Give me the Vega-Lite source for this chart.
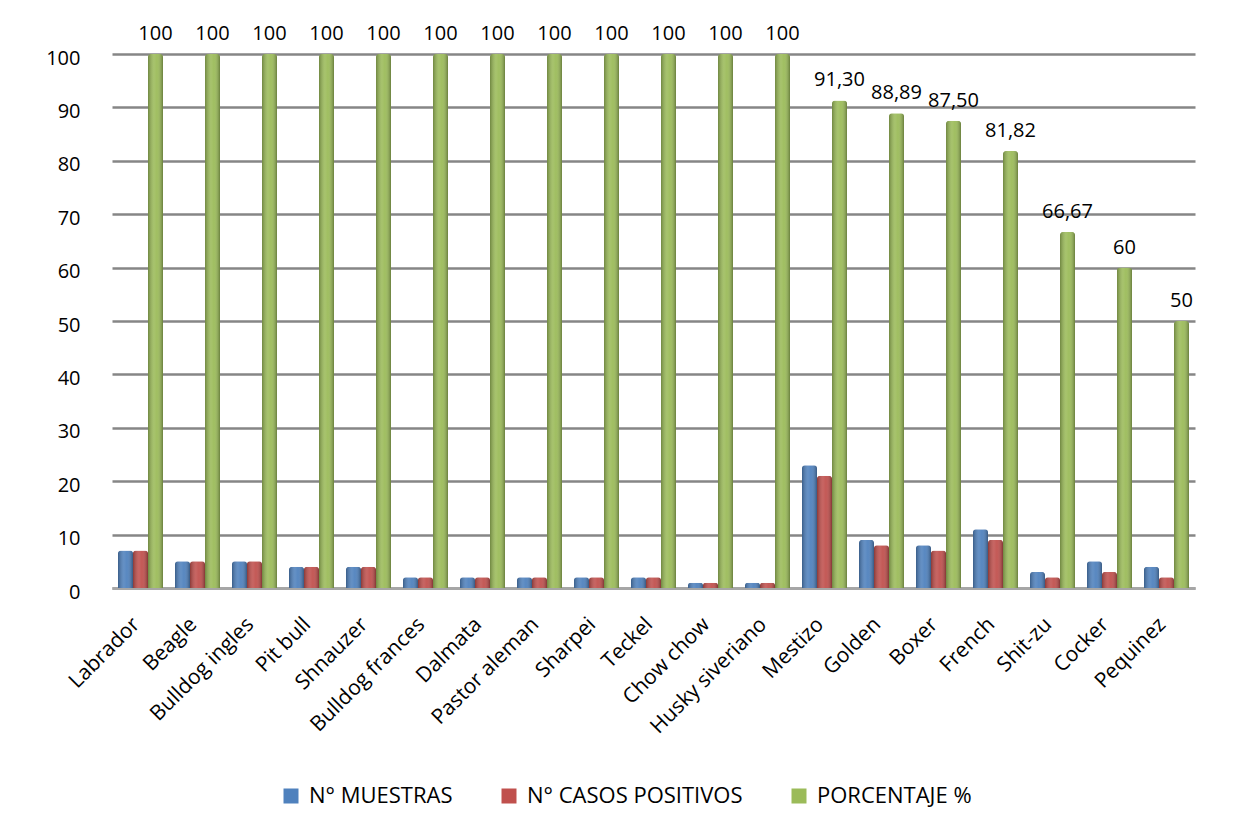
{
  "$schema": "https://vega.github.io/schema/vega-lite/v6.json",
  "width": 1083,
  "height": 534,
  "autosize": {"type": "none"},
  "padding": {"left": 112, "top": 54, "right": 40, "bottom": 246},
  "background": "white",
  "data": {
    "values": [
      {"raza": "Labrador", "muestras": 7, "positivos": 7, "porcentaje": 100, "etiqueta": "100"},
      {"raza": "Beagle", "muestras": 5, "positivos": 5, "porcentaje": 100, "etiqueta": "100"},
      {"raza": "Bulldog ingles", "muestras": 5, "positivos": 5, "porcentaje": 100, "etiqueta": "100"},
      {"raza": "Pit bull", "muestras": 4, "positivos": 4, "porcentaje": 100, "etiqueta": "100"},
      {"raza": "Shnauzer", "muestras": 4, "positivos": 4, "porcentaje": 100, "etiqueta": "100"},
      {"raza": "Bulldog frances", "muestras": 2, "positivos": 2, "porcentaje": 100, "etiqueta": "100"},
      {"raza": "Dalmata", "muestras": 2, "positivos": 2, "porcentaje": 100, "etiqueta": "100"},
      {"raza": "Pastor aleman", "muestras": 2, "positivos": 2, "porcentaje": 100, "etiqueta": "100"},
      {"raza": "Sharpei", "muestras": 2, "positivos": 2, "porcentaje": 100, "etiqueta": "100"},
      {"raza": "Teckel", "muestras": 2, "positivos": 2, "porcentaje": 100, "etiqueta": "100"},
      {"raza": "Chow chow", "muestras": 1, "positivos": 1, "porcentaje": 100, "etiqueta": "100"},
      {"raza": "Husky siveriano", "muestras": 1, "positivos": 1, "porcentaje": 100, "etiqueta": "100"},
      {"raza": "Mestizo", "muestras": 23, "positivos": 21, "porcentaje": 91.30, "etiqueta": "91,30"},
      {"raza": "Golden", "muestras": 9, "positivos": 8, "porcentaje": 88.89, "etiqueta": "88,89"},
      {"raza": "Boxer", "muestras": 8, "positivos": 7, "porcentaje": 87.50, "etiqueta": "87,50"},
      {"raza": "French", "muestras": 11, "positivos": 9, "porcentaje": 81.82, "etiqueta": "81,82"},
      {"raza": "Shit-zu", "muestras": 3, "positivos": 2, "porcentaje": 66.67, "etiqueta": "66,67"},
      {"raza": "Cocker", "muestras": 5, "positivos": 3, "porcentaje": 60, "etiqueta": "60"},
      {"raza": "Pequinez", "muestras": 4, "positivos": 2, "porcentaje": 50, "etiqueta": "50"}
    ]
  },
  "transform": [
    {"fold": ["muestras", "positivos", "porcentaje"], "as": ["serie", "valor"]}
  ],
  "encoding": {
    "x": {
      "field": "raza",
      "type": "nominal",
      "sort": null,
      "scale": {"paddingInner": 0.21, "paddingOuter": 0.105},
      "axis": {
        "title": null,
        "labelAngle": -45,
        "labelAlign": "right",
        "labelBaseline": "middle",
        "labelFont": "Open Sans",
        "labelFontSize": 21,
        "labelColor": "black",
        "labelPadding": 33,
        "labelOffset": -4,
        "ticks": false,
        "domainColor": "#a6a6a6",
        "domainWidth": 3
      }
    },
    "xOffset": {
      "field": "serie",
      "type": "nominal",
      "scale": {"domain": ["muestras", "positivos", "porcentaje"], "paddingInner": 0, "paddingOuter": 0}
    },
    "y": {
      "field": "valor",
      "type": "quantitative",
      "scale": {"domain": [0, 100], "nice": false},
      "axis": {
        "title": null,
        "values": [0, 10, 20, 30, 40, 50, 60, 70, 80, 90, 100],
        "labelFont": "Open Sans",
        "labelFontSize": 20,
        "labelColor": "black",
        "labelPadding": 32,
        "labelOffset": 4,
        "ticks": false,
        "domain": false,
        "gridColor": "#868686",
        "gridWidth": 2.5
      }
    }
  },
  "layer": [
    {
      "mark": {"type": "bar", "cornerRadiusTopLeft": 3, "cornerRadiusTopRight": 3},
      "encoding": {
        "color": {
          "field": "serie",
          "type": "nominal",
          "scale": {
            "domain": ["muestras", "positivos", "porcentaje"],
            "range": ["#4F81BD", "#C0504D", "#9BBB59"]
          },
          "legend": {
            "title": null,
            "orient": "none",
            "direction": "horizontal",
            "legendX": 168,
            "legendY": 731,
            "symbolType": "square",
            "symbolSize": 225,
            "symbolStrokeWidth": 0,
            "labelFont": "Open Sans",
            "labelFontSize": 22,
            "labelColor": "black",
            "labelOffset": 7,
            "columnPadding": 45,
            "labelLimit": 400,
            "labelExpr": "datum.value == 'muestras' ? 'N° MUESTRAS' : datum.value == 'positivos' ? 'N° CASOS POSITIVOS' : 'PORCENTAJE %'"
          }
        }
      }
    },
    {
      "mark": {
        "type": "bar",
        "cornerRadiusTopLeft": 3,
        "cornerRadiusTopRight": 3,
        "fill": {
          "gradient": "linear",
          "x1": 0, "y1": 0, "x2": 1, "y2": 0,
          "stops": [
            {"offset": 0, "color": "rgba(0,0,0,0.28)"},
            {"offset": 0.4, "color": "rgba(255,255,255,0.12)"},
            {"offset": 0.6, "color": "rgba(255,255,255,0.05)"},
            {"offset": 1, "color": "rgba(0,0,0,0.32)"}
          ]
        }
      }
    },
    {
      "transform": [{"filter": "datum.serie == 'porcentaje'"}],
      "mark": {"type": "text", "baseline": "bottom", "dy": -10, "font": "Open Sans", "fontSize": 20, "color": "black"},
      "encoding": {"text": {"field": "etiqueta"}}
    }
  ],
  "config": {"view": {"stroke": null}}
}
